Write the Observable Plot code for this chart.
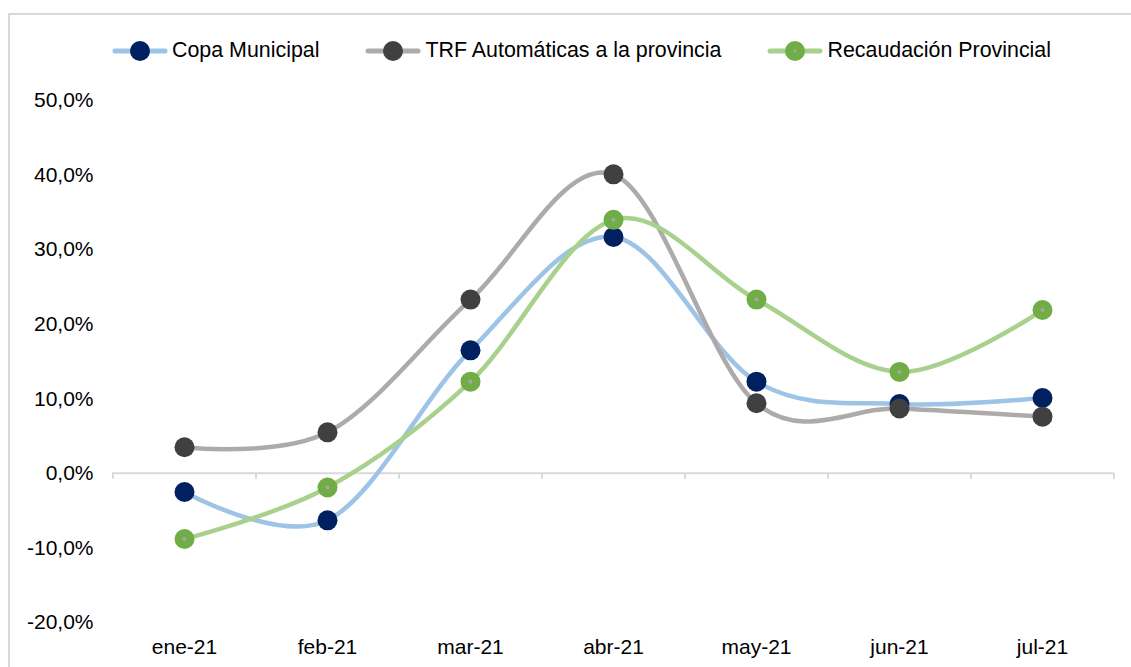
<!DOCTYPE html>
<html><head><meta charset="utf-8">
<script src="https://cdn.jsdelivr.net/npm/d3@7"></script>
<script src="https://cdn.jsdelivr.net/npm/@observablehq/plot@0.6"></script>
<style>
body{margin:0;background:#fff;font-family:"Liberation Sans",Arial,sans-serif;}
#wrap{position:relative;width:1131px;height:667px;overflow:hidden;background:#fff;}
#frame{position:absolute;left:8px;top:13px;width:1150px;height:690px;border:2px solid #D9D9D9;box-sizing:border-box;}
#legend{position:absolute;left:112px;top:38px;display:flex;align-items:center;font-size:21.4px;color:#000;white-space:nowrap;}
.item{display:flex;align-items:center;margin-right:46px;}
.item svg{margin-right:4px;display:block;}
#chart{position:absolute;left:0;top:0;}
</style></head><body>
<div id="wrap"><div id="frame"></div><div id="chart"></div><div id="legend"></div></div>
<script>
const months = ["ene-21","feb-21","mar-21","abr-21","may-21","jun-21","jul-21"];
const copaMunicipal = [-2.5, -6.3, 16.5, 31.7, 12.3, 9.3, 10.1];
const trfAutomaticas = [3.5, 5.5, 23.3, 40.1, 9.4, 8.7, 7.6];
const recaudacionProvincial = [-8.8, -1.9, 12.3, 34.0, 23.3, 13.6, 21.9];
const seriesNames = ["Copa Municipal", "TRF Automáticas a la provincia", "Recaudación Provincial"];
const yTicks = [-20, -10, 0, 10, 20, 30, 40, 50];

const lineColors = ["#9DC3E6", "#AEAAAA", "#A9D18E"];
const markerColors = ["#002060", "#404040", "#70AD47"];
const centerDotColor = "#A5A5A5";

const seriesValues = [copaMunicipal, trfAutomaticas, recaudacionProvincial];
const seriesData = seriesValues.map((vals, k) =>
  months.map((m, i) => ({month: m, value: vals[i], series: seriesNames[k]})));

const width = 1131, height = 667;
const marginLeft = 112, marginRight = 18, marginTop = 100, marginBottom = 45;
const step = (width - marginLeft - marginRight) / months.length;
const fmt = d => d.toFixed(1).replace(".", ",") + "%";

const marks = [
  Plot.ruleY([0], {stroke: "#D9D9D9", strokeWidth: 2}),
  Plot.ruleX(months, {x: d => d, y1: 0, y2: 0, insetBottom: -6, dx: -step / 2, stroke: "#D9D9D9", strokeWidth: 2}),
  Plot.ruleX([months[months.length - 1]], {x: d => d, y1: 0, y2: 0, insetBottom: -6, dx: step / 2, stroke: "#D9D9D9", strokeWidth: 2}),
  Plot.axisY(yTicks, {tickSize: 0, tickPadding: 19, tickFormat: fmt, fontSize: 21, label: null}),
  Plot.axisX({tickSize: 0, tickPadding: 17, fontSize: 21, label: null})
];
seriesData.forEach((data, k) => {
  marks.push(Plot.line(data, {x: "month", y: "value", curve: "cardinal", stroke: lineColors[k], strokeWidth: 4.5, strokeLinecap: "round", strokeLinejoin: "round"}));
  marks.push(Plot.dot(data, {x: "month", y: "value", r: 10, fill: markerColors[k], stroke: "none"}));
  if (k === 2) marks.push(Plot.dot(data, {x: "month", y: "value", r: 2, fill: centerDotColor, stroke: "none"}));
});

const chart = Plot.plot({
  width, height, marginLeft, marginRight, marginTop, marginBottom,
  style: {fontFamily: '"Liberation Sans", Arial, sans-serif', fontSize: "21px", color: "#000", background: "transparent", overflow: "visible"},
  x: {type: "point", domain: months, padding: 0.5, axis: null, label: null},
  y: {domain: [-20, 50], axis: null, label: null},
  marks
});
document.getElementById("chart").appendChild(chart);

// legend
const legend = d3.select("#legend");
seriesNames.forEach((name, k) => {
  const item = legend.append("div").attr("class", "item");
  const svg = item.append("svg").attr("width", 56).attr("height", 22);
  svg.append("line").attr("x1", 3).attr("x2", 53).attr("y1", 11).attr("y2", 11)
    .attr("stroke", lineColors[k]).attr("stroke-width", 5).attr("stroke-linecap", "round");
  svg.append("circle").attr("cx", 28).attr("cy", 11).attr("r", 10).attr("fill", markerColors[k]);
  if (k === 2) svg.append("circle").attr("cx", 28).attr("cy", 11).attr("r", 1.5).attr("fill", centerDotColor);
  item.append("span").text(name);
});
</script>
</body></html>
